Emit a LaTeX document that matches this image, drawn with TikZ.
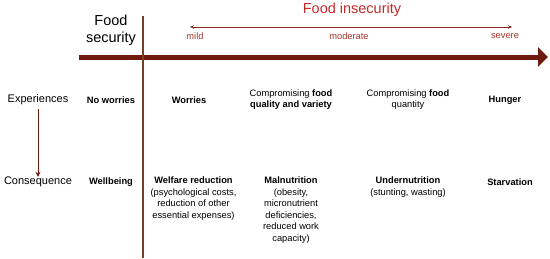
\documentclass[tikz,border=0pt]{standalone}
\usepackage{fontspec}
\setmainfont{Liberation Sans}
\usetikzlibrary{arrows.meta}
\definecolor{axisred}{HTML}{6E1A0E}
\definecolor{linebrown}{HTML}{7A3E22}
\definecolor{insecred}{HTML}{C42A2A}
\definecolor{scalered}{HTML}{A5342A}
\tikzset{
  lbl/.style={inner sep=0pt, align=center, font=\fontsize{9.3}{11.6}\selectfont},
  rowhead/.style={inner sep=0pt, font=\fontsize{11}{13}\selectfont},
  big/.style={inner sep=0pt, align=center, font=\fontsize{14.5}{17}\selectfont},
  scale lbl/.style={inner sep=0pt, text=scalered, font=\fontsize{9.3}{11}\selectfont},
}
\begin{document}
\begin{tikzpicture}[x=1pt,y=-1pt]
\useasboundingbox (0,0) rectangle (550,258);
% main axis
\coordinate (axL) at (79,57);
\coordinate (axR) at (548,57);
\draw[axisred, line width=5pt, -{Triangle[length=10pt,width=19pt]}] (axL) -- (axR);
% divider
\coordinate (divT) at (143,16);
\coordinate (divB) at (143,258);
\draw[linebrown, line width=1.6pt] (divT) -- (divB);
% titles
\node[big] (fs) at (111,30) {Food\\security};
\node[big, text=insecred] (fi) at (352,10) {Food insecurity};
% severity scale
\coordinate (scL) at (190,27);
\coordinate (scR) at (512,27);
\draw[scalered!80!black, line width=0.6pt, {Stealth[length=4pt,width=3.5pt]}-{Stealth[length=4pt,width=3.5pt]}] (scL) -- (scR);
\node[scale lbl] (mild) at (195,36.5) {mild};
\node[scale lbl] (moderate) at (349,36.5) {moderate};
\node[scale lbl] (severe) at (505,36.5) {severe};
% row 1
\node[rowhead] (exp) at (38,100) {Experiences};
\node[lbl] (nw) at (111,100) {\textbf{No worries}};
\node[lbl] (wor) at (189,100) {\textbf{Worries}};
\node[lbl] (cq) at (291,99.5) {Compromising \textbf{food}\\\textbf{quality and variety}};
\node[lbl] (cqt) at (408,99.5) {Compromising \textbf{food}\\quantity};
\node[lbl] (hun) at (505,100) {\textbf{Hunger}};
% row 2
\node[rowhead] (con) at (38,182) {Consequence};
\draw[axisred, line width=1pt, -{Stealth[length=5pt,width=5pt]}] (38,109) -- (con.north);
\node[lbl] (wb) at (111,182) {\textbf{Wellbeing}};
\node[lbl, anchor=north] (wr) at (193.5,176.5) {\textbf{Welfare reduction}\\(psychological costs,\\reduction of other\\essential expenses)};
\node[lbl, anchor=north] (mal) at (291,176.5) {\textbf{Malnutrition}\\(obesity,\\micronutrient\\deficiencies,\\reduced work\\capacity)};
\node[lbl, anchor=north] (und) at (408,176.5) {\textbf{Undernutrition}\\(stunting, wasting)};
\node[lbl] (sta) at (510,182) {\textbf{Starvation}};
\end{tikzpicture}
\end{document}
